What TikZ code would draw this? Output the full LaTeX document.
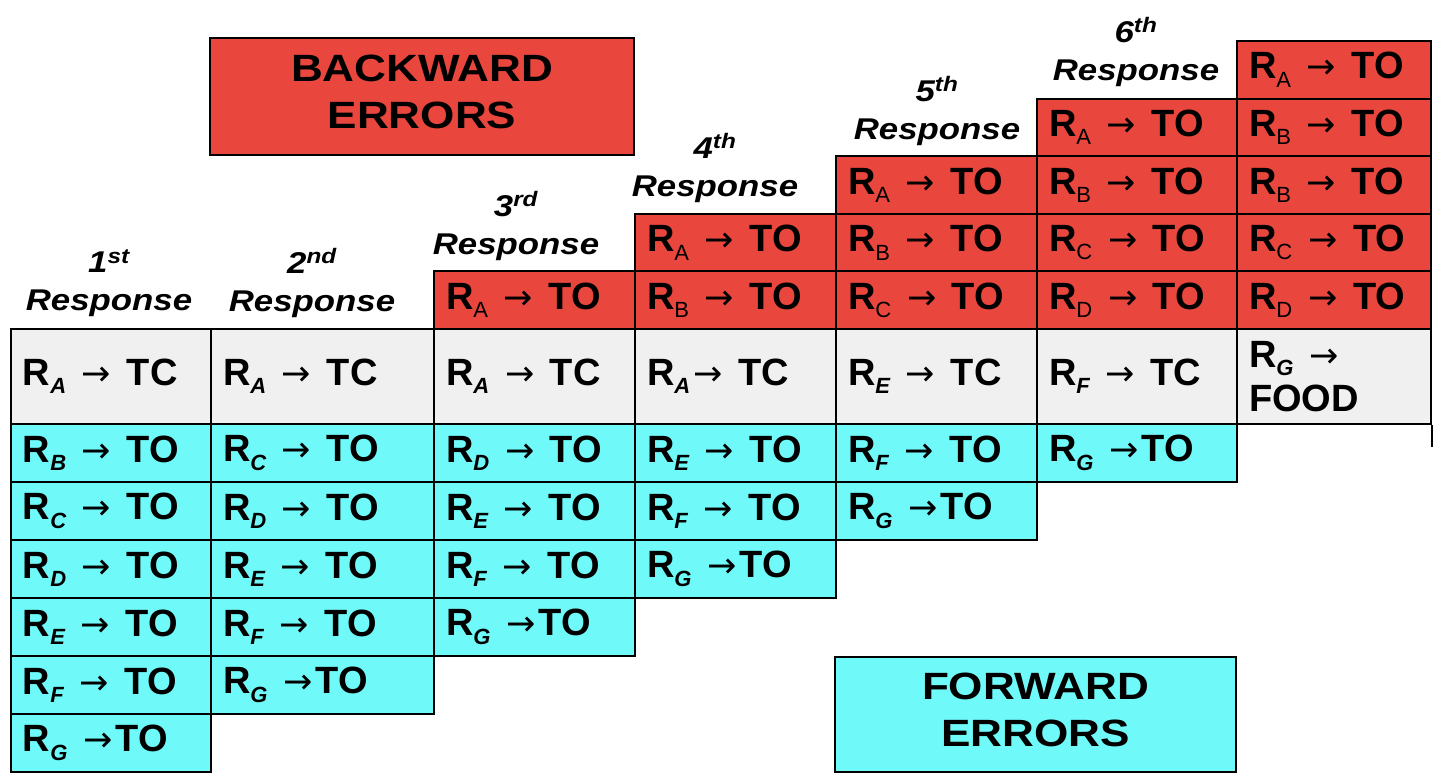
\documentclass[tikz,border=0pt]{standalone}
\usepackage{fontspec}
\setmainfont{Liberation Sans}
\newfontfamily\wideface{Liberation Sans}[FakeStretch=1.16]
\newfontfamily\arrowface{DejaVu Sans}
\usetikzlibrary{positioning}
\definecolor{backColor}{RGB}{233, 71, 61}
\definecolor{forwardColor}{RGB}{111, 249, 249}
\definecolor{correctColor}{RGB}{240, 240, 240}
\newcommand{\rsub}[1]{R\raisebox{-0.22em}{\fontsize{22}{22}\selectfont\itshape #1}}
\newcommand{\rsubup}[1]{R\raisebox{-0.22em}{\fontsize{22}{22}\selectfont\mdseries #1}}
\newcommand{\arr}{\kern3pt{\arrowface\mdseries\fontsize{35}{35}\selectfont →}\kern3pt}

\begin{document}
\begin{tikzpicture}[x=1pt, y=-1pt,
		% Define styles for nodes
		cell/.style={
				draw=black,
				line width=2pt,
				rectangle,
				anchor=north west,
				inner xsep=12pt,
				inner ysep=0pt,
				align=left,
				fill=#1,
				font=\fontsize{38}{44}\selectfont\bfseries
			},
		header/.style={
				align=center,
				font=\wideface\fontsize{30}{38}\selectfont\bfseries\itshape
			},
		banner/.style={
				draw=black,
				line width=2pt,
				rectangle,
				fill=#1
			},
		bannertext/.style={
				align=center,
				font=\wideface\fontsize{38}{47}\selectfont\bfseries
			}
	]
	\useasboundingbox (0,0) rectangle (1435,774);

	% Banners
	\node[banner=backColor, minimum width=424pt, minimum height=117pt] (backward) at (422,96.5) {};
	\node[bannertext] (backward-text) at ([yshift=5pt]backward.center) {BACKWARD\\ERRORS};
	\node[banner=forwardColor, minimum width=401pt, minimum height=115pt] (forward) at (1035.5,714.5) {};
	\node[bannertext] (forward-text) at ([yshift=5pt]forward.center) {FORWARD\\ERRORS};

	% Column headers
	\node[header] (head-1) at (109,283) {1\textsuperscript{st}\\Response};
	\node[header] (head-2) at (312,283) {2\textsuperscript{nd}\\Response};
	\node[header] (head-3) at (516,226) {3\textsuperscript{rd}\\Response};
	\node[header] (head-4) at (715,168) {4\textsuperscript{th}\\Response};
	\node[header] (head-5) at (937,111) {5\textsuperscript{th}\\Response};
	\node[header] (head-6) at (1136,52) {6\textsuperscript{th}\\Response};

	% Correct responses (grey row)
	\foreach \col/\x/\w/\txt in {1/10/200/{\rsub{A} \arr{} TC}, 2/210/223/{\rsub{A} \arr{} TC},
			3/433/201/{\rsub{A} \arr{} TC}, 4/634/201/{\rsub{A}\arr{} TC}, 5/835/201/{\rsub{E} \arr{} TC},
			6/1036/200/{\rsub{F} \arr{} TC}, 7/1236/194/{\rsub{G} \arr\\FOOD}} {
		\pgfmathsetmacro\tw{\w-24}
		\node[cell=correctColor, minimum height=95pt, text width=\tw pt] (tc-\col) at (\x,328) {\txt};
	}
	\coordinate[below=22pt of tc-7.south east] (tail);
	\draw[line width=2pt] (tc-7.south east) -- (tail);

	% Forward errors (cyan)
	\foreach \col/\x/\w/\lst in {1/10/200/{B,C,D,E,F,G}, 2/210/223/{C,D,E,F,G}, 3/433/201/{D,E,F,G},
			4/634/201/{E,F,G}, 5/835/201/{F,G}, 6/1036/200/{G}} {
		\pgfmathsetmacro\tw{\w-24}
		\foreach \l [count=\k] in \lst {
			\node[cell=forwardColor, minimum height=58pt, text width=\tw pt] (fwd-\col-\k) at (\x,365+58*\k) {\rsub{\l} \arr\if G\l\else{} \fi TO};
		}
	}

	% Backward errors (red)
	\foreach \col/\x/\w/\start/\lst in {3/433/201/5/{A}, 4/634/201/4/{A,B}, 5/835/201/3/{A,B,C},
			6/1036/200/2/{A,B,C,D}, 7/1236/194/1/{A,B,B,C,D}} {
		\pgfmathsetmacro\tw{\w-24}
		\foreach \l [count=\k] in \lst {
			\node[cell=backColor, minimum height=57.6pt, text width=\tw pt] (back-\col-\k) at (\x,{40+57.6*(\start+\k-2)}) {\rsubup{\l} \arr{} TO};
		}
	}

\end{tikzpicture}
\end{document}
